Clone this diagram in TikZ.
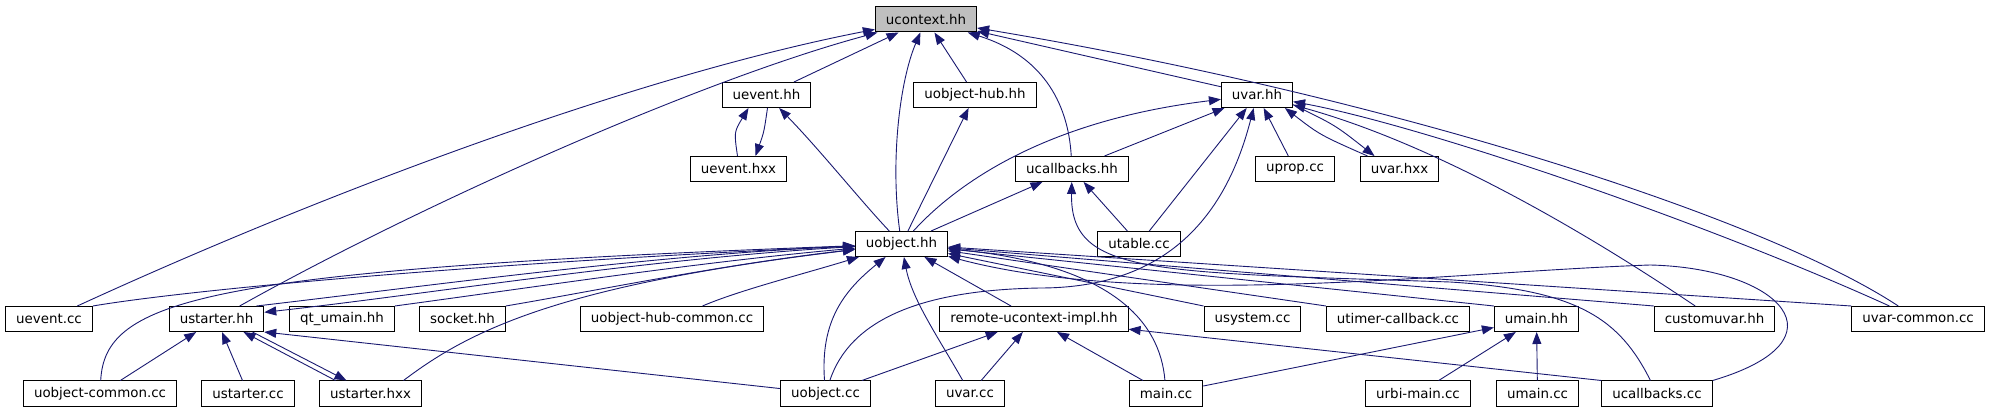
\documentclass[tikz,border=0pt]{standalone}
\usepackage{fontspec}
\setmainfont{DejaVu Sans}
\usetikzlibrary{arrows.meta}
\definecolor{edgeblue}{HTML}{191970}
\definecolor{rootgray}{HTML}{BFBFBF}

\begin{document}
\begin{tikzpicture}[x=1pt,y=-1pt,
	filebox/.style={draw=black,line width=1pt,fill=white,minimum height=25pt,inner xsep=10.5pt,inner ysep=0pt,font=\fontsize{13.4}{16}\selectfont},
	rootbox/.style={filebox,fill=rootgray},
	incl/.style={draw=edgeblue,line width=0.9pt,-{Triangle[length=12pt,width=9pt]}}]
	\newcommand\rowa{19.5}
	\newcommand\rowb{95}
	\newcommand\rowc{169}
	\newcommand\rowd{244}
	\newcommand\rowe{319}
	\newcommand\rowf{393.5}
	\useasboundingbox (0,0) rectangle (1989,411);

	\node[rootbox] (ctx) at (926,\rowa) {ucontext.hh};
	\foreach \nm/\xx/\txt in {evhh/766.5/uevent.hh,hubhh/975/uobject-hub.hh,varhh/1257/uvar.hh} {
		\node[filebox] (\nm) at (\xx,\rowb) {\txt};
	}
	\foreach \nm/\xx/\txt in {evhxx/738.5/uevent.hxx,cbhh/1072/ucallbacks.hh,propcc/1295/uprop.cc,varhxx/1399.5/uvar.hxx} {
		\node[filebox] (\nm) at (\xx,\rowc) {\txt};
	}
	\foreach \nm/\xx/\txt in {objhh/901.5/uobject.hh,tablecc/1139/utable.cc} {
		\node[filebox] (\nm) at (\xx,\rowd) {\txt};
	}
	\foreach \nm/\xx/\txt in {evcc/49/uevent.cc,starthh/216.5/ustarter.hh,qtmain/342/qt\_umain.hh,sockhh/462.5/socket.hh,hubcc/672/uobject-hub-common.cc,remhh/1034/remote-ucontext-impl.hh,syscc/1252.5/usystem.cc,timercc/1398/utimer-callback.cc,mainhh/1536.5/umain.hh,custhh/1714.5/customuvar.hh,varcomcc/1918/uvar-common.cc} {
		\node[filebox] (\nm) at (\xx,\rowe) {\txt};
	}
	\foreach \nm/\xx/\txt in {objcomcc/100/uobject-common.cc,startcc/248/ustarter.cc,starthxx/370.5/ustarter.hxx,objcc/825.5/uobject.cc,varcc/970/uvar.cc,maincc/1166/main.cc,urbicc/1418/urbi-main.cc,umaincc/1537.5/umain.cc,cbcc/1657/ucallbacks.cc} {
		\node[filebox] (\nm) at (\xx,\rowf) {\txt};
	}

	\foreach \src/\dst in {evhh/ctx,hubhh/ctx,varhh/ctx,objhh/hubhh,objhh/cbhh,cbhh/varhh,tablecc/cbhh,tablecc/varhh,propcc/varhh,remhh/objhh,objcc/remhh,varcc/remhh,maincc/remhh,maincc/mainhh,urbicc/mainhh,umaincc/mainhh,objcomcc/starthh,startcc/starthh} {
		\draw[incl] (\src) -- (\dst);
	}
	\foreach \src in {syscc,timercc,mainhh,custhh,varcomcc} {
		\draw[incl] (\src.north west) -- (objhh);
	}
	\draw[incl] (cbcc.north west) -- (remhh);
	\draw[incl] (objcc) -- (starthh.south east);

	\draw[incl] (evcc) .. controls (330,190) and (640,75) .. (ctx);
	\draw[incl] (starthh) .. controls (420,205) and (700,80) .. (ctx);
	\draw[incl] (objhh) .. controls (890,160) and (900,80) .. (ctx);
	\draw[incl] (cbhh) .. controls (1068,100) and (1040,55) .. (ctx);
	\draw[incl] (varcomcc) .. controls (1760,215) and (1380,95) .. (ctx);

	\draw[incl] ([xshift=-1pt]evhxx.north) .. controls (734,132) .. ([xshift=-18pt]evhh.south);
	\draw[incl] ([xshift=1pt]evhh.south) .. controls (764,132) .. ([xshift=17pt]evhxx.north);
	\draw[incl] (objhh) .. controls (860,200) and (820,150) .. (evhh);

	\draw[incl] (objhh) .. controls (960,180) and (1050,120) .. (varhh);
	\draw[incl] (objcc) .. controls (850,320) and (920,290) .. (1040,288) .. controls (1180,288) and (1230,200) .. (varhh);
	\draw[incl] (varhh.-15) .. controls (1335,125) .. ([xshift=-25pt]varhxx.north);
	\draw[incl] ([xshift=-32pt]varhxx.north) .. controls (1320,135) .. (varhh.-25);
	\draw[incl] (custhh) .. controls (1560,215) and (1420,140) .. (varhh);
	\draw[incl] (varcomcc) .. controls (1700,220) and (1420,125) .. (varhh);

	\draw[incl] (evcc.north east) .. controls (200,288) and (500,262) .. (objhh);
	\draw[incl] (objcomcc) .. controls (105,300) and (200,270) .. (objhh);
	\draw[incl] (starthh.18) .. controls (420,287) and (650,255) .. (objhh);
	\draw[incl] (objhh) .. controls (650,258) and (430,294) .. (starthh.8);
	\draw[incl] (qtmain.north east) .. controls (550,285) and (700,262) .. (objhh);
	\draw[incl] (sockhh.north east) .. controls (600,290) and (720,265) .. (objhh);
	\draw[incl] ([xshift=33pt]starthxx.north) .. controls (470,330) and (560,285) .. (objhh);
	\draw[incl] (hubcc) .. controls (740,290) and (800,275) .. (objhh);

	\draw[incl] (objcc) .. controls (820,320) and (845,290) .. (objhh);
	\draw[incl] (varcc) .. controls (940,340) and (912,300) .. (objhh);
	\draw[incl] (maincc) .. controls (1160,320) and (1110,265) .. (objhh);
	\draw[incl] (cbcc.north east) .. controls (1850,340) and (1780,268) .. (1650,265) .. controls (1450,272) and (1150,310) .. (objhh);
	\draw[incl] (cbcc) .. controls (1620,320) and (1580,290) .. (1450,282) .. controls (1150,272) and (1070,275) .. (cbhh);

	\draw[incl] ([xshift=-35pt]starthxx.north) -- ([xshift=27pt]starthh.south);
	\draw[incl] ([xshift=36pt]starthh.south) -- ([xshift=-24pt]starthxx.north);
\end{tikzpicture}
\end{document}
